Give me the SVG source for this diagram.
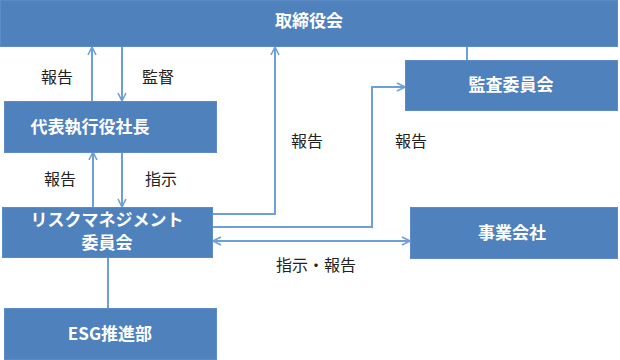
<svg xmlns="http://www.w3.org/2000/svg" width="620" height="360" viewBox="0 0 620 360">
<defs>
<style>
.box{fill:#4F81BD;stroke:#5b8cc8;stroke-width:1}
.t{font-family:"Noto Sans CJK JP","Liberation Sans",sans-serif;font-size:17px;font-weight:bold;fill:#fff;text-anchor:middle}
.l{font-family:"Noto Sans CJK JP","Liberation Sans",sans-serif;font-size:16px;fill:#222;text-anchor:middle}
.c{fill:none;stroke:#6f9fd8;stroke-width:2}
</style>
<marker id="a" viewBox="0 0 10 10" refX="9" refY="5" markerWidth="10" markerHeight="10" markerUnits="userSpaceOnUse" orient="auto-start-reverse">
<path d="M1,1 L9,5 L1,9" fill="none" stroke="#6f9fd8" stroke-width="1.6"/>
</marker>
</defs>
<rect width="620" height="360" fill="#fff"/>
<g id="connectors">
<line class="c" x1="92" y1="101" x2="92" y2="47" marker-end="url(#a)"/>
<line class="c" x1="122" y1="47" x2="122" y2="101" marker-end="url(#a)"/>
<line class="c" x1="467" y1="47" x2="467" y2="60"/>
<line class="c" x1="93" y1="207" x2="93" y2="152" marker-end="url(#a)"/>
<line class="c" x1="122" y1="152" x2="122" y2="207" marker-end="url(#a)"/>
<polyline class="c" points="212,214 275,214 275,47" marker-end="url(#a)"/>
<polyline class="c" points="212,227 372,227 372,87 405,87" marker-end="url(#a)"/>
<line class="c" x1="213" y1="241" x2="410" y2="241" marker-start="url(#a)" marker-end="url(#a)"/>
<line class="c" x1="108" y1="258" x2="108" y2="308"/>
</g>
<g id="board"><rect class="box" x="0.5" y="0.5" width="617" height="46"/><text class="t" x="309" y="27">取締役会</text></g>
<g id="audit"><rect class="box" x="405.5" y="60.5" width="212" height="50"/><text class="t" x="511" y="91">監査委員会</text></g>
<g id="ceo"><rect class="box" x="4.5" y="101.5" width="212" height="51"/><text class="t" x="90" y="133">代表執行役社長</text></g>
<g id="risk"><rect class="box" x="2.5" y="207.5" width="210" height="50"/><text class="t" x="107" y="226">リスクマネジメント</text><text class="t" x="107" y="249">委員会</text></g>
<g id="subsidiaries"><rect class="box" x="410.5" y="207.5" width="207" height="51"/><text class="t" x="512" y="239">事業会社</text></g>
<g id="esg"><rect class="box" x="4.5" y="308.5" width="212" height="51"/><text class="t" x="110" y="340">ESG推進部</text></g>
<g id="labels">
<text class="l" x="57" y="83">報告</text>
<text class="l" x="158" y="83">監督</text>
<text class="l" x="60" y="185">報告</text>
<text class="l" x="161" y="185">指示</text>
<text class="l" x="307" y="147">報告</text>
<text class="l" x="411" y="147">報告</text>
<text class="l" x="316" y="271">指示・報告</text>
</g>
</svg>
